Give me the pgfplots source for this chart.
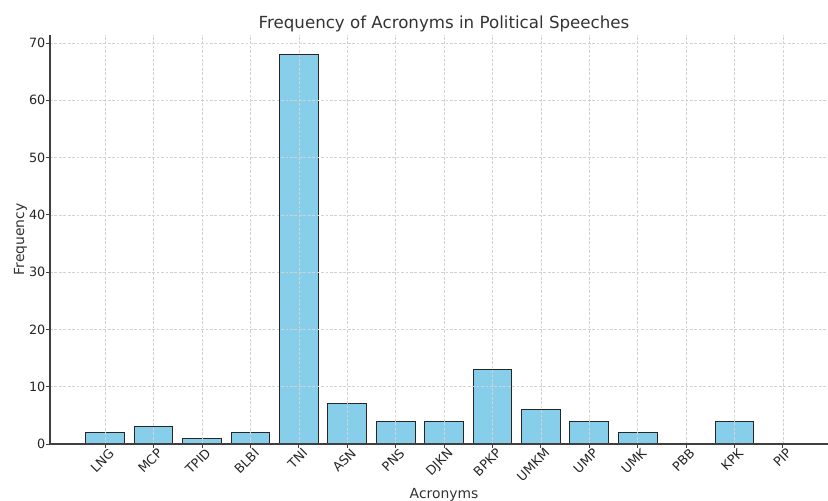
\documentclass[border=0pt]{standalone}
\usepackage{pgfplots}
\pgfplotsset{compat=1.18}
\usepackage{fontspec}
\setmainfont{DejaVu Sans}
\definecolor{skyblue}{HTML}{87CEEB}
\definecolor{txt}{HTML}{333333}

\begin{document}
\begin{tikzpicture}[x=0.72pt,y=0.72pt]
\begin{axis}[
	at={(0,0)}, anchor=south west,
	scale only axis,
	width=567.4pt, height=294.5pt,
	xmin=-1.14, xmax=15.14,
	ymin=0, ymax=71.4,
	axis x line*=bottom, axis y line*=left,
	axis line style={black!75, line width=0.8pt, -},
	xtick={0,...,14},
	xticklabels={LNG,MCP,TPID,BLBI,TNI,ASN,PNS,DJKN,BPKP,UMKM,UMP,UMK,PBB,KPK,PIP},
	ytick={0,10,...,70},
	x tick label style={rotate=45, anchor=north east, inner sep=1pt, xshift=3pt, font=\fontsize{9.2}{11}\selectfont, text=black!85},
	y tick label style={inner sep=1pt, xshift=0.8pt, font=\fontsize{9.2}{11}\selectfont, text=black!85},
	/pgf/number format/assume math mode=true,
	tick align=outside,
	major tick length=3pt,
	tick style={black!75, line width=0.6pt},
	grid=major,
	major grid style={gray!35, dash pattern=on 2pt off 1.2pt, line width=0.35pt},
	axis on top,
	title={Frequency of Acronyms in Political Speeches},
	title style={font=\fontsize{12}{14}\selectfont, text=txt, yshift=-7.5pt},
	xlabel={Acronyms},
	ylabel={Frequency},
	label style={font=\fontsize{10}{12}\selectfont, text=txt},
	xlabel style={yshift=1pt},
	ylabel style={yshift=-3pt},
	]
\addplot[ybar, bar width=0.8, fill=skyblue, draw=black!85, line width=0.7pt]
	coordinates {
	(0,2) (1,3) (2,1) (3,2) (4,68) (5,7) (6,4) (7,4)
	(8,13) (9,6) (10,4) (11,2) (12,0) (13,4) (14,0)};
\end{axis}
\pgfresetboundingbox
\useasboundingbox (-50,-56) rectangle (778,444);
\end{tikzpicture}
\end{document}
